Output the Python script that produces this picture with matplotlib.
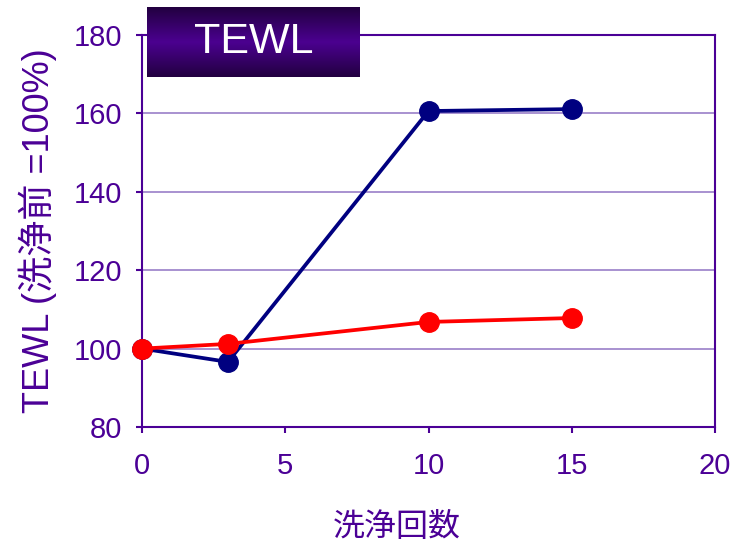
import numpy as np
import matplotlib.pyplot as plt

plt.rcParams['font.family'] = ['Liberation Sans', 'Noto Sans CJK JP']

washes = [0, 3, 10, 15]
tewl_blue = [100, 96.6, 160.6, 161.1]
tewl_red = [100, 101.2, 106.8, 107.8]

purple = '#4B0096'
grid_purple = '#9A7FC8'

fig = plt.figure(figsize=(7.31, 5.45), dpi=100)
ax = fig.add_axes([142/731, 1 - 427/545, (715 - 142)/731, (427 - 35)/545])

ax.plot(washes, tewl_blue, color='#000080', lw=2.7, marker='o', ms=14, zorder=3, clip_on=False)
ax.plot(washes, tewl_red, color='#FF0000', lw=2.7, marker='o', ms=14, zorder=4, clip_on=False)

ax.set_xlim(0, 20)
ax.set_ylim(80, 180)
ax.set_xticks([0, 5, 10, 15, 20])
ax.set_yticks([80, 100, 120, 140, 160, 180])
ax.yaxis.grid(True, color=grid_purple, lw=1.2)
ax.set_axisbelow(True)
for s in ax.spines.values():
    s.set_color(purple)
    s.set_linewidth(1.5)
ax.tick_params(colors=purple, labelsize=21, direction='out', length=4, width=1.5)
ax.tick_params(axis='x', pad=14)
ax.tick_params(axis='y', pad=10)
ax.set_xlabel('洗浄回数', color=purple, fontsize=23, labelpad=22)
ax.xaxis.set_label_coords(0.445, -0.22)
ax.set_ylabel('TEWL (洗浄前 =100%)', color=purple, fontsize=26, labelpad=12)

# title box with vertical gradient
bx = fig.add_axes([147/731, 1 - 77/545, 213/731, 70/545])
t = np.linspace(0, 1, 100)
g = 1 - np.abs(t - 0.5) * 2
dark = np.array([0x22, 0x00, 0x40]) / 255
mid = np.array([0x4B, 0x00, 0x90]) / 255
img = dark[None, :] + (mid - dark)[None, :] * g[:, None]
bx.imshow(img[:, None, :], aspect='auto', extent=[0, 1, 0, 1])
bx.set_axis_off()
bx.text(0.5, 0.5, 'TEWL', color='white', fontsize=31, ha='center', va='center',
        transform=bx.transAxes)

fig.savefig('out.png', dpi=100)
